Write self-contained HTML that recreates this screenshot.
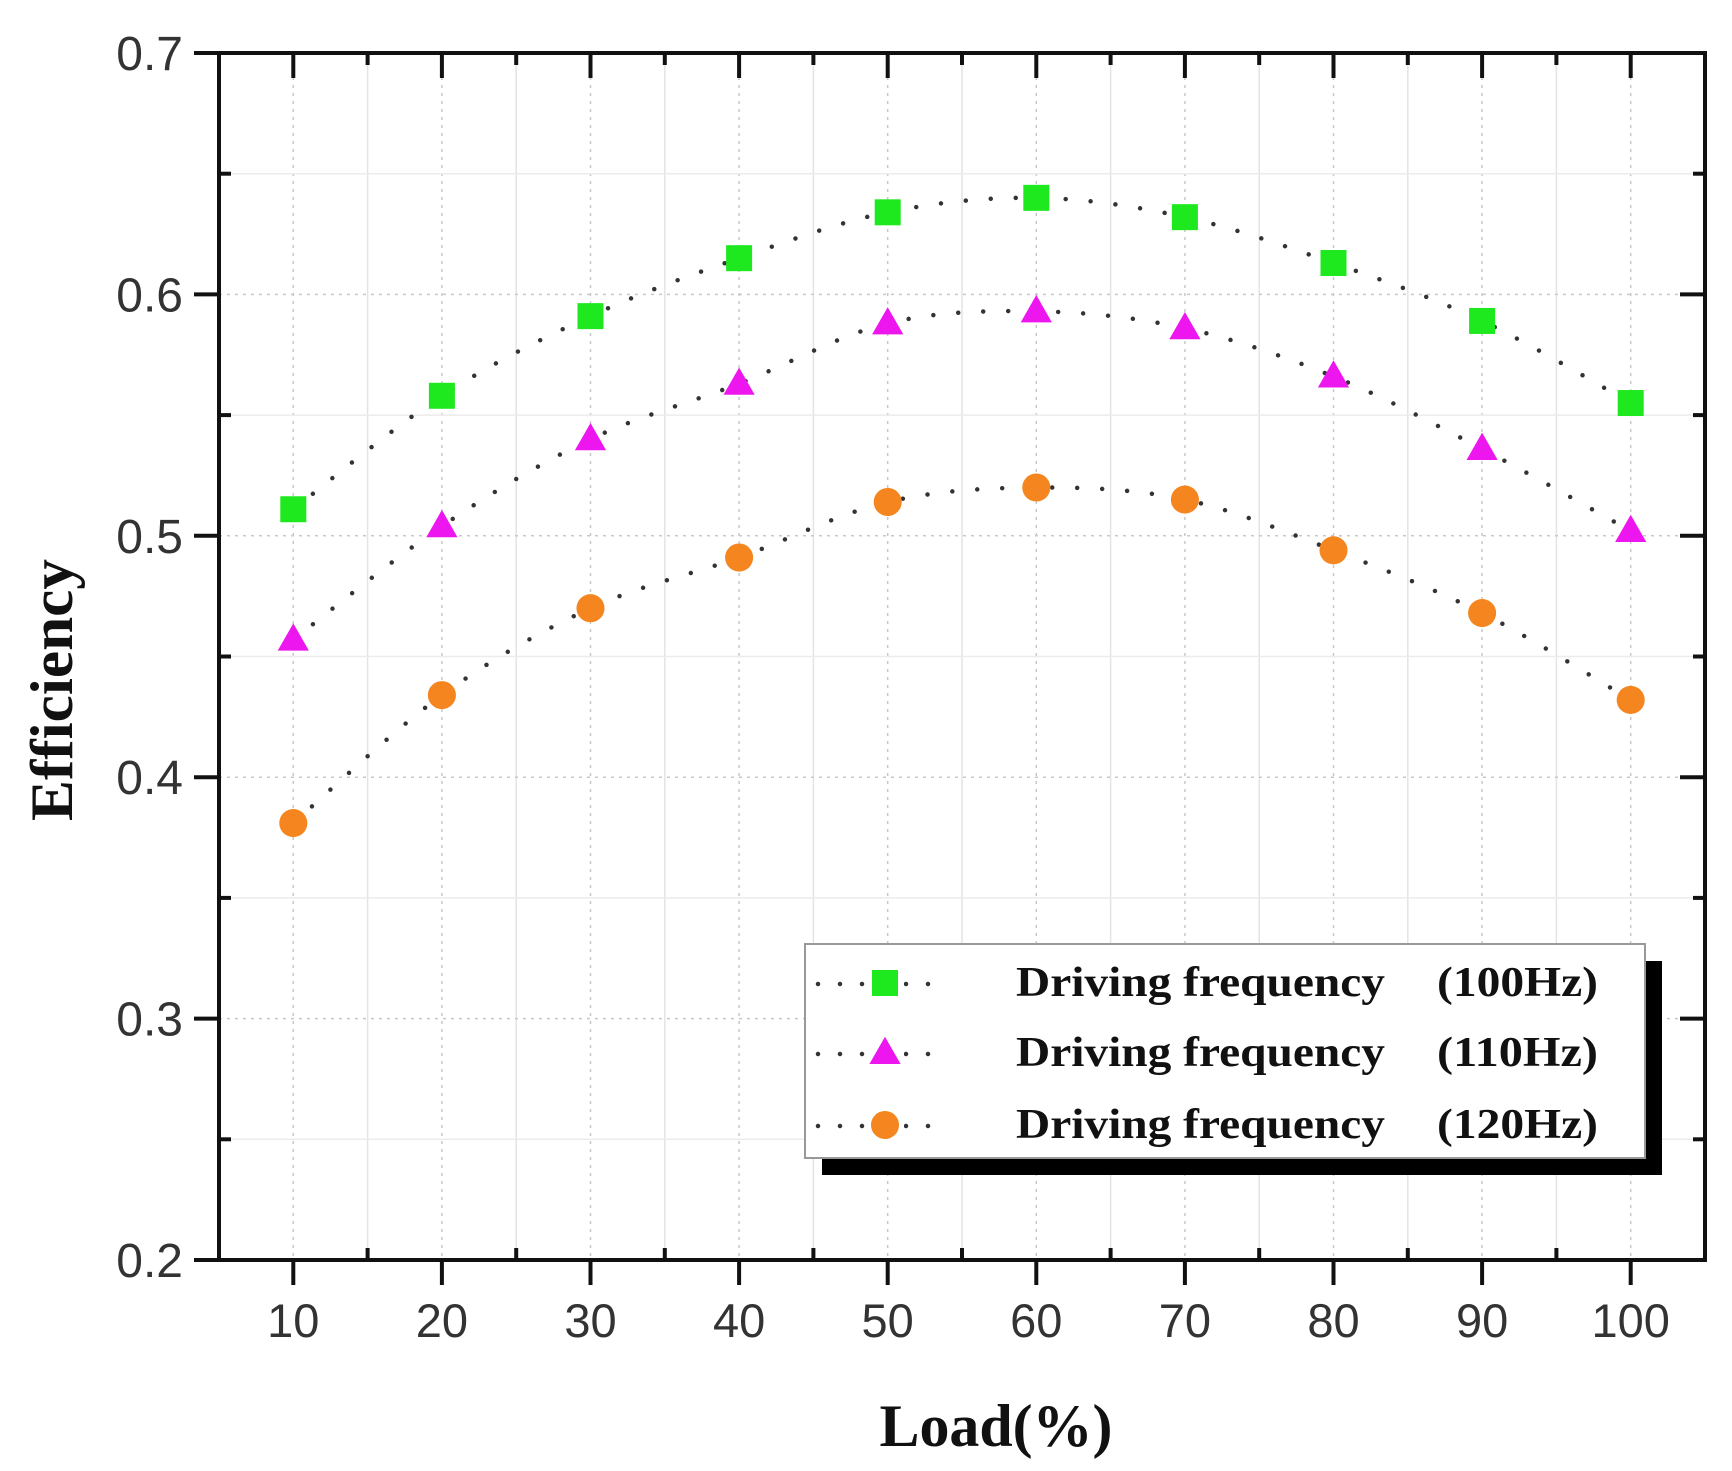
<!DOCTYPE html>
<html><head><meta charset="utf-8"><style>
html,body{margin:0;padding:0;background:#fff;}
svg{display:block;}
</style></head><body>
<svg id="chart" width="1732" height="1471" viewBox="0 0 1732 1471" xmlns="http://www.w3.org/2000/svg">
<g id="grid"></g>
<g id="curves"></g>
<g id="marks"></g>
<g id="axes"></g>
<text x="0" y="0" transform="translate(72,690) rotate(-90)" text-anchor="middle" font-family="Liberation Serif, serif" font-weight="bold" font-size="60" fill="#111" textLength="262" lengthAdjust="spacingAndGlyphs">Efficiency</text>
<text x="996" y="1446" text-anchor="middle" font-family="Liberation Serif, serif" font-weight="bold" font-size="60" fill="#111" textLength="233" lengthAdjust="spacingAndGlyphs">Load(%)</text>
<g id="legend">
<rect x="822" y="961" width="840" height="214" fill="#000"/>
<rect x="805" y="944" width="840" height="214" fill="#fff" stroke="#999" stroke-width="2"/>
</g>
</svg>
<script>
const categories=[10,20,30,40,50,60,70,80,90,100];
const series100=[0.511,0.558,0.591,0.615,0.634,0.640,0.632,0.613,0.589,0.555];
const series110=[0.457,0.504,0.540,0.563,0.588,0.593,0.586,0.566,0.536,0.502];
const series120=[0.381,0.434,0.470,0.491,0.514,0.520,0.515,0.494,0.468,0.432];
const seriesNames=["Driving frequency","Driving frequency","Driving frequency"];
const seriesFreq=["(100Hz)","(110Hz)","(120Hz)"];
const xTicks=[10,20,30,40,50,60,70,80,90,100];
const yTicks=[0.2,0.3,0.4,0.5,0.6,0.7];

const NS="http://www.w3.org/2000/svg";
const L=219,R=1705,T=53,B=1260;
const xMin=5,xMax=105,yMin=0.2,yMax=0.7;
const sx=v=>L+(v-xMin)/(xMax-xMin)*(R-L);
const sy=v=>B-(v-yMin)/(yMax-yMin)*(B-T);
function mk(tag,attrs,parent){const e=document.createElementNS(NS,tag);for(const k in attrs)e.setAttribute(k,attrs[k]);parent.appendChild(e);return e;}
const grid=document.getElementById('grid'),axes=document.getElementById('axes'),curves=document.getElementById('curves'),marks=document.getElementById('marks'),legend=document.getElementById('legend');

for(let v=10;v<=100;v+=5){const x=sx(v);const major=v%10===0;
 const g=mk('line',{x1:x,y1:T,x2:x,y2:B,stroke:major?'#c8c8c8':'#e4e4e4','stroke-width':1.5,'stroke-dasharray':major?'3 5':'none'},grid);
 
 }
for(let v=0.25;v<0.7;v+=0.05){const y=sy(v);const major=Math.abs(Math.round(v*10)-v*10)<1e-6;
 const g=mk('line',{x1:L,y1:y,x2:R,y2:y,stroke:major?'#c8c8c8':'#ececec','stroke-width':1.5,'stroke-dasharray':major?'3 5':'none'},grid);
 
 }

const fr=mk('rect',{x:L,y:T,width:R-L,height:B-T,fill:'none',stroke:'#111','stroke-width':4},axes);


for(let v=10;v<=100;v+=5){const x=sx(v);const major=v%10===0;
 const t=mk('line',{x1:x,y1:major?B:B-12,x2:x,y2:major?B+25:B,stroke:'#111','stroke-width':4},axes);
 
 
 const t2=mk('line',{x1:x,y1:T,x2:x,y2:T+(major?25:12),stroke:'#111','stroke-width':4},axes);
 
 }
xTicks.forEach(v=>{const t=mk('text',{x:sx(v),y:1337,'text-anchor':'middle','font-family':'Liberation Sans, sans-serif','font-size':47,fill:'#333'},axes);t.textContent=v;
 
 });
for(let v=0.2;v<=0.7001;v+=0.05){const y=sy(v);const major=Math.abs(Math.round(v*10)-v*10)<1e-6;
 const t=mk('line',{x1:major?L-25:L,y1:y,x2:major?L:L+12,y2:y,stroke:'#111','stroke-width':4},axes);
 
 
 const t2=mk('line',{x1:R-(major?25:12),y1:y,x2:R,y2:y,stroke:'#111','stroke-width':4},axes);
 
 }
yTicks.forEach(v=>{const t=mk('text',{x:183,y:sy(v)+17,'text-anchor':'end','font-family':'Liberation Sans, sans-serif','font-size':48,fill:'#333'},axes);t.textContent=v.toFixed(1);
 
 });

function spline(vals){const p=categories.map((c,i)=>[sx(c),sy(vals[i])]);let d=`M${p[0][0]},${p[0][1]}`;
 for(let i=0;i<p.length-1;i++){const p0=p[i-1]||p[i],p1=p[i],p2=p[i+1],p3=p[i+2]||p[i+1];
  d+=` C${p1[0]+(p2[0]-p0[0])/6},${p1[1]+(p2[1]-p0[1])/6} ${p2[0]-(p3[0]-p1[0])/6},${p2[1]-(p3[1]-p1[1])/6} ${p2[0]},${p2[1]}`;}
 return d;}
const allSeries=[series100,series110,series120];
const colors=['#1ee81e','#ee16ee','#f5861f'];
const shapes=['square','triangle','circle'];
function drawMarker(shape,x,y,color,parent,s){
 if(shape==='square')return mk('rect',{x:x-s,y:y-s,width:2*s,height:2*s,fill:color},parent);
 if(shape==='triangle')return mk('polygon',{points:`${x},${y-s*1.25} ${x-s*1.2},${y+s*0.85} ${x+s*1.2},${y+s*0.85}`,fill:color},parent);
 return mk('circle',{cx:x,cy:y,r:s*1.08,fill:color},parent);}
allSeries.forEach((vals,si)=>{
 const c=mk('path',{d:spline(vals),fill:'none',stroke:'#333','stroke-width':4.5,'stroke-linecap':'round','stroke-dasharray':'0 25'},curves);
 
 
 vals.forEach((v,i)=>{const m=drawMarker(shapes[si],sx(categories[i]),sy(v),colors[si],marks,13);
  
  });
});

const rowsY=[982,1052,1124];
rowsY.forEach((y,i)=>{
 const ln=mk('line',{x1:818,y1:y+2,x2:950,y2:y+2,stroke:'#333','stroke-width':4.5,'stroke-linecap':'round','stroke-dasharray':'0 22'},legend);
 
 
 const w=mk('rect',{x:868,y:y-18,width:36,height:38,fill:'#fff'},legend);
 
 
 const m=drawMarker(shapes[i],885,y+1,colors[i],legend,13);
 
 
 const t=mk('text',{x:1016,y:y+14,'font-family':'Liberation Serif, serif','font-weight':'bold','font-size':42,fill:'#111',textLength:369,lengthAdjust:'spacingAndGlyphs'},legend);t.textContent=seriesNames[i];
 
 
 const f=mk('text',{x:1437,y:y+14,'font-family':'Liberation Serif, serif','font-weight':'bold','font-size':42,fill:'#111',textLength:161,lengthAdjust:'spacingAndGlyphs'},legend);f.textContent=seriesFreq[i];
 
 
});
</script>
</body></html>
